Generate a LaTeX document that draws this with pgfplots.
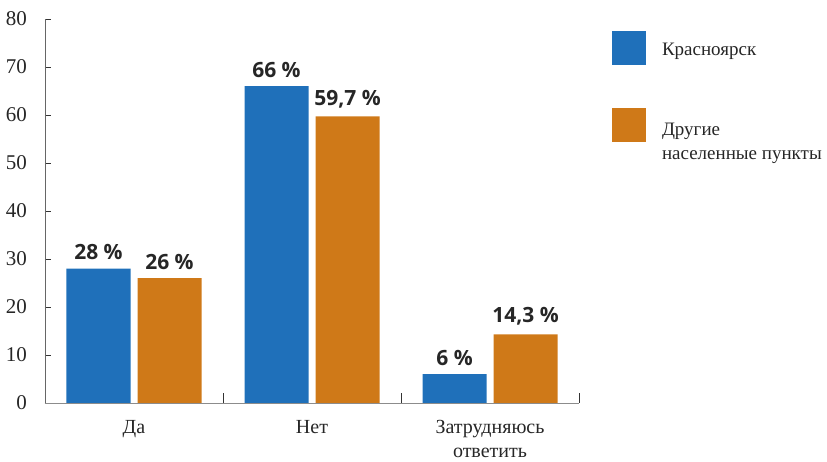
\documentclass[border=0pt]{standalone}
\usepackage{fontspec}
\setmainfont{Liberation Serif}
\newfontfamily\lblfont{Open Sans}
\usepackage{pgfplots}
\pgfplotsset{compat=1.18}
\definecolor{krasblue}{HTML}{1F70BA}
\definecolor{otherorange}{HTML}{CF7918}
\begin{document}
\begin{tikzpicture}
\useasboundingbox (-45pt,-59pt) rectangle (782pt,403pt);
\begin{axis}[
 at={(0,0)}, anchor=south west,
 scale only axis,
 width=534pt, height=384pt,
 ybar=7pt, bar width=64pt,
 xmin=-0.5, xmax=2.5,
 ymin=0, ymax=80,
 ytick={0,10,...,80},
 xtick={0,1,2},
 xticklabels={Да,Нет,{Затрудняюсь\\ответить}},
 minor xtick={0.5,1.5,2.5},
 axis lines*=left,
 x axis line style={color=black!45, line width=0.8pt},
 y axis line style={color=black!60, line width=0.8pt},
 tick align=inside,
 tick pos=left,
 major tick length=6pt,
 minor tick length=10pt,
 major x tick style={draw=none},
 minor x tick style={black!80, line width=0.6pt},
 ytick style={black!80, line width=0.6pt},
 /pgf/number format/assume math mode=true,
 yticklabel style={inner sep=0pt, xshift=-18pt, font=\rmfamily\fontsize{21}{24}\selectfont, text=black!85},
 xticklabel style={inner sep=0pt, yshift=-17pt, align=center, font=\rmfamily\fontsize{20}{24}\selectfont, text=black!85},
 point meta=explicit symbolic,
 nodes near coords,
 nodes near coords style={inner sep=0pt, yshift=8.5pt, font=\lblfont\bfseries\fontsize{21}{24}\selectfont, text=black!85},
 legend image code/.code={\fill[#1] (0pt,-14.5pt) rectangle (34pt,19.5pt);},
 legend cell align=left,
 legend style={at={(1,1)}, anchor=north west, xshift=33pt, yshift=-12pt,
   draw=none, inner sep=0pt, outer sep=0pt, row sep=43pt, column sep=16pt,
   nodes={inner sep=0pt}, font=\rmfamily\fontsize{19}{24}\selectfont, text=black!85},
]
\addplot[fill=krasblue, draw=none] coordinates {(0,28) [28 \%] (1,66) [66 \%] (2,6) [6 \%]};
\addlegendentry{Красноярск}
\addplot[fill=otherorange, draw=none] coordinates {(0,26) [26 \%] (1,59.7) [{59,7 \%}] (2,14.3) [{14,3 \%}]};
\addlegendentry{\begin{tabular}[t]{@{}l@{}}Другие\\населенные пункты\end{tabular}}
\end{axis}
\end{tikzpicture}
\end{document}
